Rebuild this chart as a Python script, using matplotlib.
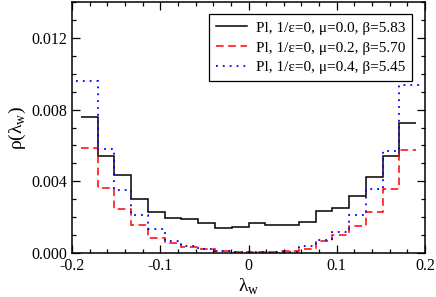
import numpy as np
import matplotlib
matplotlib.use("Agg")
import matplotlib.pyplot as plt
from matplotlib.ticker import MultipleLocator

plt.rcParams["font.family"] = ["Liberation Serif", "DejaVu Serif"]
plt.rcParams["mathtext.fontset"] = "custom"
plt.rcParams["mathtext.rm"] = "Liberation Serif"

# ── data: histogram of lambda_w, 20 bins of width 0.019 ──────────────────────
edges = np.arange(-10, 11) * 0.019

rho_mu00 = [0.00757, 0.00539, 0.00433, 0.00300, 0.00230, 0.00198, 0.00189, 0.00168,
            0.00141, 0.00146, 0.00166, 0.00156, 0.00157, 0.00174, 0.00233, 0.00250,
            0.00318, 0.00424, 0.00544, 0.00724]
rho_mu02 = [0.00585, 0.00363, 0.00248, 0.00157, 0.00084, 0.00058, 0.00032, 0.00020,
            0.00012, 0.00006, 0.00004, 0.00006, 0.00011, 0.00020, 0.00069, 0.00103,
            0.00151, 0.00230, 0.00358, 0.00576]
rho_mu04 = [0.00957, 0.00578, 0.00350, 0.00215, 0.00133, 0.00067, 0.00041, 0.00022,
            0.00010, 0.00005, 0.00004, 0.00005, 0.00008, 0.00040, 0.00070, 0.00120,
            0.00213, 0.00358, 0.00572, 0.00939]

labels = ["Pl, 1/\u03b5=0, \u03bc=0.0, \u03b2=5.83",
          "Pl, 1/\u03b5=0, \u03bc=0.2, \u03b2=5.70",
          "Pl, 1/\u03b5=0, \u03bc=0.4, \u03b2=5.45"]

# ── plot ─────────────────────────────────────────────────────────────────────
fig = plt.figure(figsize=(4.36, 2.97), dpi=100)
ax = fig.add_axes([0.165, 0.148, 0.81, 0.845])

ax.stairs(rho_mu00, edges, baseline=None, color="black", lw=1.1, label=labels[0])
ax.stairs(rho_mu02, edges, baseline=None, color="#ff0000", lw=1.1,
          linestyle=(0, (5, 3)), label=labels[1])
blue_edges = edges.copy()
blue_edges[0] -= 0.005
blue_edges[-1] += 0.008
ax.stairs(rho_mu04, blue_edges, baseline=None, color="#0000ff", lw=1.3,
          linestyle=(0, (1, 2.8)), label=labels[2])

ax.set_xlim(-0.2, 0.2)
ax.set_ylim(0, 0.014)
ax.xaxis.set_major_locator(MultipleLocator(0.1))
ax.xaxis.set_minor_locator(MultipleLocator(0.02))
ax.yaxis.set_major_locator(MultipleLocator(0.004))
ax.yaxis.set_minor_locator(MultipleLocator(0.001))
ax.set_xticklabels([f"{v:g}" for v in ax.get_xticks()])
ax.yaxis.set_major_formatter(plt.FuncFormatter(lambda v, p: f"{v:.3f}"))
ax.tick_params(which="both", direction="in", top=True, right=True, labelsize=11.5)
ax.tick_params(which="major", length=6, width=0.9)
ax.tick_params(which="minor", length=3, width=0.9)
for s in ax.spines.values():
    s.set_linewidth(1.1)

ax.set_xlabel("\u03bb$_\\mathrm{w}$", fontsize=14, labelpad=2)
ax.set_ylabel("\u03c1(\u03bb$_\\mathrm{w}$)", fontsize=14, labelpad=2)

leg = ax.legend(loc="upper right", fontsize=11, handlelength=2.0, handletextpad=0.6,
                borderpad=0.45, labelspacing=0.4, fancybox=False, framealpha=1,
                edgecolor="black", bbox_to_anchor=(0.963, 0.952), borderaxespad=0)
leg.get_frame().set_linewidth(0.9)

fig.savefig("out.png", dpi=100)
